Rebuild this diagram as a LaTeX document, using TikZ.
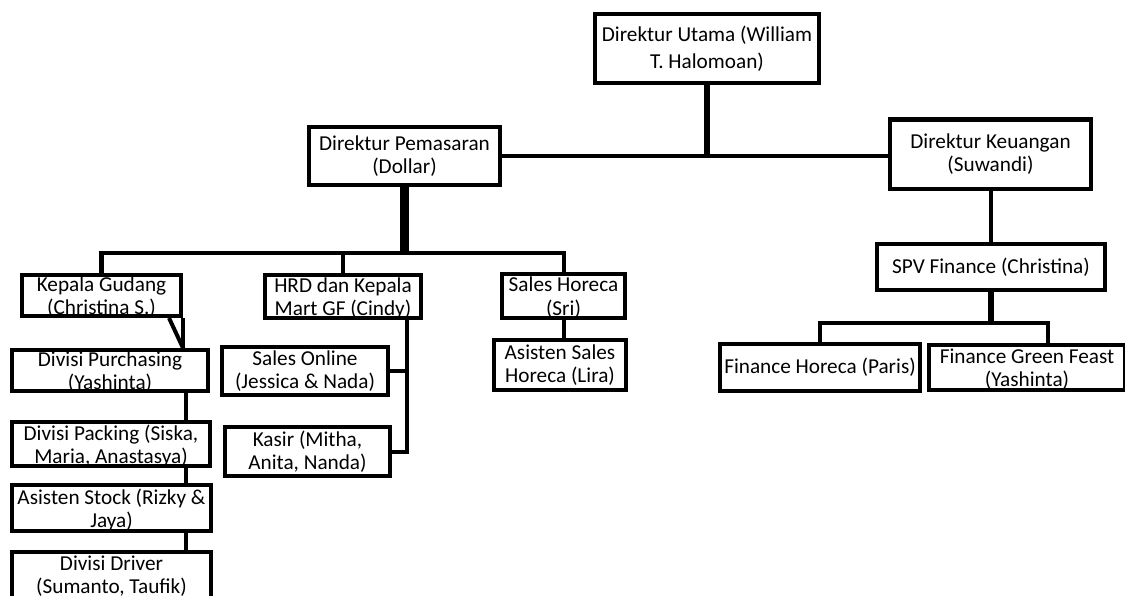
\documentclass[tikz,border=0pt]{standalone}
\usepackage{fontspec}
\setmainfont{Carlito}
\usepackage{tikz}
\usetikzlibrary{positioning}
\tikzset{
	box/.style={
		draw,
		rectangle,
		line width=2.85pt,
		align=center,
		inner sep=0pt,
		font=\fontsize{15.1pt}{16.6pt}\selectfont
	},
	lowtext/.style={
		text depth=0pt
	},
	link/.style={
		line width=2.85pt
	},
	slim link/.style={
		line width=2.4pt
	},
	heavy link/.style={
		line width=5.7pt
	},
	mid link/.style={
		line width=3.8pt
	}
}

\begin{document}
\begin{tikzpicture}[x=0.025cm, y=-0.025cm]
		\useasboundingbox [fill=white] (0,0) rectangle (1125,595);
		
		\node [box, minimum width=224*0.7113pt, minimum height=69*0.7113pt] (utama) at (707,48.5) {Direktur Utama (William\\[2.5pt]T. Halomoan)};
		\node [box, minimum width=191*0.7113pt, minimum height=58*0.7113pt] (pemasaran) at (404.5,156) {Direktur Pemasaran\\(Dollar)};
		\node [box, minimum width=201*0.7113pt, minimum height=69*0.7113pt] (keuangan) at (990.5,154) {Direktur Keuangan\\(Suwandi)};
		\node [box, minimum width=228*0.7113pt, minimum height=46*0.7113pt] (spv) at (991,267) {SPV Finance (Christina)};
		\node [box, minimum width=200*0.7113pt, minimum height=47*0.7113pt] (fhoreca) at (820,367.5) {Finance Horeca (Paris)};
		\node [box, lowtext, minimum width=196*0.7113pt, minimum height=45*0.7113pt] (fgreen) at (1027,367.5) {Finance Green Feast\\(Yashinta)};
		
		\node [box, lowtext, minimum width=159*0.7113pt, minimum height=41*0.7113pt] (gudang) at (101.5,295.5) {Kepala Gudang\\(Christina S.)};
		\node [box, lowtext, minimum width=196*0.7113pt, minimum height=41*0.7113pt] (purchasing) at (110,370.5) {Divisi Purchasing\\(Yashinta)};
		\node [box, lowtext, minimum width=198*0.7113pt, minimum height=44*0.7113pt] (packing) at (111,444) {Divisi Packing (Siska,\\Maria, Anastasya)};
		\node [box, lowtext, minimum width=199*0.7113pt, minimum height=46*0.7113pt] (stock) at (111.5,508) {Asisten Stock (Rizky \&\\Jaya)};
		\node [box, lowtext, minimum width=199*0.7113pt, minimum height=46*0.7113pt] (driver) at (111.5,575) {Divisi Driver\\(Sumanto, Taufik)};
		
		\node [box, lowtext, minimum width=156*0.7113pt, minimum height=43*0.7113pt] (hrd) at (343,296.5) {HRD dan Kepala\\Mart GF (Cindy)};
		\node [box, minimum width=166*0.7113pt, minimum height=48*0.7113pt] (online) at (305,371) {Sales Online\\(Jessica \& Nada)};
		\node [box, minimum width=165*0.7113pt, minimum height=49*0.7113pt] (kasir) at (307.5,451.5) {Kasir (Mitha,\\Anita, Nanda)};
		
		\node [box, lowtext, minimum width=123*0.7113pt, minimum height=44*0.7113pt] (shoreca) at (563.5,296) {Sales Horeca\\(Sri)};
		\node [box, minimum width=132*0.7113pt, minimum height=50*0.7113pt] (asisten) at (560,365) {Asisten Sales\\Horeca (Lira)};
		
		\coordinate (mbar) at (404.5,253);
		\coordinate (hrdx) at (407,320);
		\coordinate (stem) at (186,0);
		\coordinate (fbar) at (993,323);
		\coordinate (gdrop) at (1048,323);
		
		\draw [mid link] (utama.south) -- (utama.south |- pemasaran.east);
		\draw [link] (pemasaran.east) -- (pemasaran.east -| keuangan.west);
		
		\draw [heavy link] (pemasaran.south) -- (mbar);
		\draw [link] (gudang.north) |- (mbar) -| (shoreca.north);
		\draw [link] (hrd.north) -- (hrd.north |- mbar);
		
		\draw [link] (gudang.south east) -- (gudang.south east |- purchasing.north);
		\draw [link] (gudang.south east) ++(-14,0) -- (gudang.south east |- purchasing.north);
		\draw [slim link] (purchasing.south -| stem) -- (packing.north -| stem);
		\draw [slim link] (packing.south -| stem) -- (stock.north -| stem);
		\draw [slim link] (stock.south -| stem) -- (driver.north -| stem);
		
		\draw [link] (hrd.south -| hrdx) -- (kasir.east -| hrdx) -- (kasir.east);
		\draw [link] (online.east) -- (online.east -| hrdx);
		\draw [link] (shoreca.south) -- (shoreca.south |- asisten.north);
		
		\draw [link] (keuangan.south) -- (keuangan.south |- spv.north);
		\draw [mid link] (spv.south) -- (spv.south |- fbar);
		\draw [link] (fhoreca.north) |- (gdrop) -- (gdrop |- fgreen.north);
\end{tikzpicture}
\end{document}
